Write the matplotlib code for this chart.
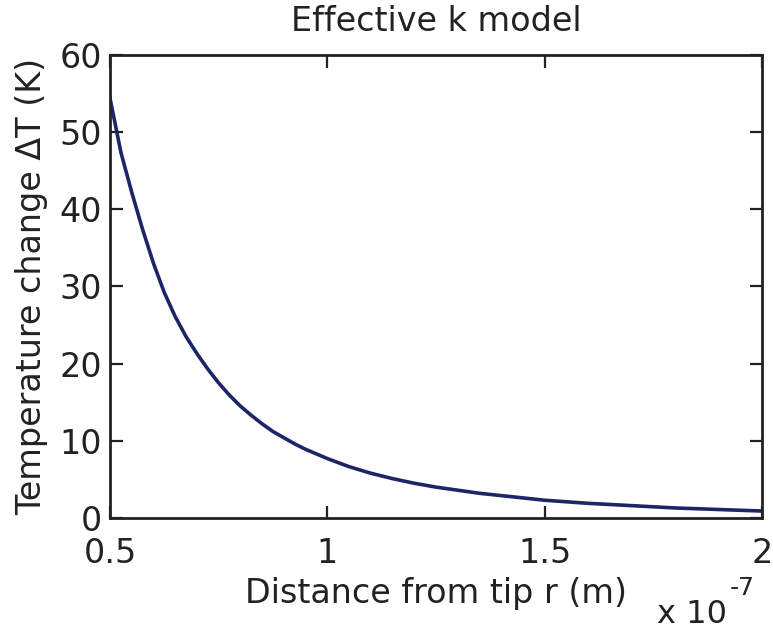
import numpy as np
import matplotlib
matplotlib.use("Agg")
import matplotlib.pyplot as plt

# distance from tip (units of 1e-7 m) and temperature change (K)
r = [0.500, 0.525, 0.550, 0.575, 0.600, 0.625, 0.650, 0.675, 0.700, 0.725,
     0.750, 0.775, 0.800, 0.825, 0.850, 0.875, 0.900, 0.925, 0.950, 0.975,
     1.00, 1.05, 1.10, 1.15, 1.20, 1.25, 1.30, 1.35, 1.40, 1.45, 1.50,
     1.60, 1.70, 1.80, 1.90, 2.00]
dT = [54.4, 47.4, 42.2, 37.4, 33.0, 29.2, 26.1, 23.5, 21.3, 19.3,
      17.5, 15.9, 14.5, 13.3, 12.2, 11.2, 10.4, 9.6, 8.9, 8.3,
      7.7, 6.65, 5.8, 5.1, 4.5, 4.0, 3.6, 3.2, 2.9, 2.6, 2.3,
      1.9, 1.6, 1.3, 1.1, 0.9]
xticks = [0.5, 1, 1.5, 2]
xticklabels = ["0.5", "1", "1.5", "2"]
yticks = [0, 10, 20, 30, 40, 50, 60]

plt.rcParams['font.family'] = ['DejaVu Sans']
fig = plt.figure(figsize=(7.73, 6.32), dpi=100)
ax = fig.add_axes([0.1423, 0.1804, 0.8435, 0.7326])

ax.plot(r, dT, color="#1c2566", linewidth=2.6, solid_joinstyle="round")

ax.set_xlim(0.5, 2)
ax.set_ylim(0, 60)
ax.set_xticks(xticks)
ax.set_xticklabels(xticklabels)
ax.set_yticks(yticks)
ax.tick_params(direction="in", length=9, width=1.6, labelsize=24, colors="#222222",
               top=True, right=True)
ax.tick_params(axis="x", pad=14)
ax.tick_params(axis="y", pad=6)
for s in ax.spines.values():
    s.set_linewidth(2)
    s.set_color("#222222")

ax.set_title("Effective k model", fontsize=24, color="#222222", pad=17)
ax.set_xlabel("Distance from tip r (m)", fontsize=24, color="#222222", labelpad=5)
ax.set_ylabel("Temperature change \u0394T (K)", fontsize=24, color="#222222", labelpad=8)

fig.text(0.850, 0.015, "x 10", fontsize=23, color="#222222")
fig.text(0.944, 0.058, "-7", fontsize=18, color="#222222")

fig.savefig("out.png", dpi=100)
